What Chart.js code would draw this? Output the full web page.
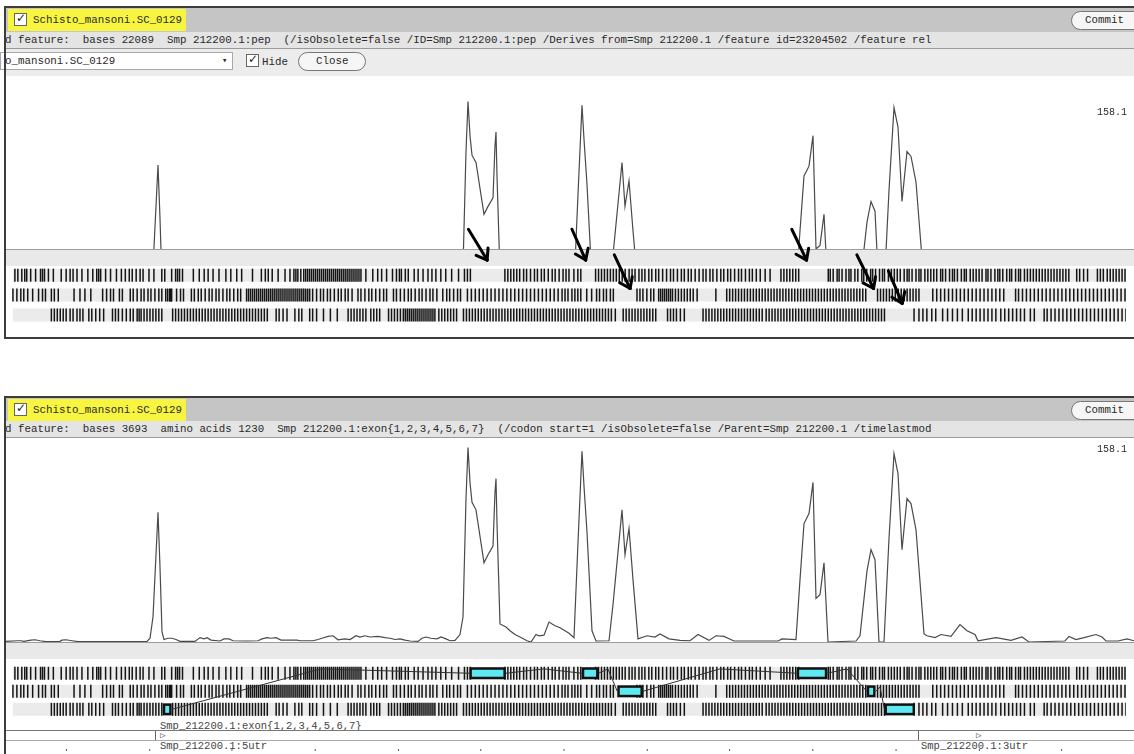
<!DOCTYPE html>
<html>
<head>
<meta charset="utf-8">
<script src="https://cdn.jsdelivr.net/npm/chart.js@4/dist/chart.umd.min.js"></script>
<style>
body { margin:0; width:1134px; height:754px; overflow:hidden; background:#fff; position:relative;
       font-family:"Liberation Mono", monospace; font-size:10.8px; color:#2a2a2a; }
.abs { position:absolute; }
.txt { position:absolute; white-space:pre; line-height:12px; }
.border { position:absolute; border:2px solid #3c3c3c; box-sizing:border-box; z-index:20; pointer-events:none; }
.header { position:absolute; left:6px; width:1128px; background:#c5c5c5; }
.yellow { position:absolute; left:8px; width:178px; background:#f7f53f; }
.check { position:absolute; width:11px; height:11px; border:1px solid #666; background:#fff; }
.check:after { content:"\2713"; position:absolute; left:1px; top:-3px; font:bold 12px "DejaVu Sans"; color:#222; }
.pill { position:absolute; border:1px solid #777; border-radius:10px; background:#f6f6f6; box-sizing:border-box; }
.line2 { position:absolute; left:6px; width:1128px; height:16px; background:#e4e4e4; }
.sep { position:absolute; left:6px; width:1128px; height:1px; background:#999; }
canvas { position:absolute; left:0; }
</style>
</head>
<body>

<!-- top panel -->
<div class="border" style="left:4px;top:6px;width:1200px;height:333px;"></div>
<div class="header" style="top:8px;height:24px;"></div>
<div class="yellow" style="top:9px;height:22px;"></div>
<div class="check" style="left:14px;top:13px;"></div>
<div class="txt" style="left:33px;top:14px;">Schisto_mansoni.SC_0129</div>
<div class="pill" style="left:1071px;top:11px;width:90px;height:19px;"></div>
<div class="txt" style="left:1085px;top:14px;">Commit</div>
<div class="line2" style="top:32px;"></div>
<div class="txt" id="info1" style="left:5px;top:34px;"></div>
<div class="sep" style="top:48px;"></div>
<div class="abs" style="left:6px;top:49px;width:1128px;height:27px;background:#ececec;"></div>
<div class="abs" style="left:0px;top:52px;width:233px;height:18px;background:#fff;border:1px solid #a8a8a8;box-sizing:border-box;"></div>
<div class="txt" style="left:5px;top:55px;">o_mansoni.SC_0129</div>
<div class="txt" style="left:222px;top:55px;font-size:9px;">&#9662;</div>
<div class="check" style="left:246px;top:54px;"></div>
<div class="txt" style="left:262px;top:56px;">Hide</div>
<div class="pill" style="left:298px;top:52px;width:68px;height:19px;"></div>
<div class="txt" style="left:316px;top:55px;">Close</div>
<canvas id="plot1" width="1134" height="173" style="top:76px;"></canvas>
<div class="abs" style="left:5px;top:249px;width:1129px;height:1.5px;background:#9c9c9c;"></div>
<div class="abs" style="left:5px;top:250px;width:1129px;height:16px;background:#e9e9e9;"></div>
<canvas id="frames1" width="1134" height="138" style="top:200px;z-index:5;"></canvas>
<div class="txt" id="max1" style="left:1097px;top:107px;font-size:10px;"></div>

<!-- bottom panel -->
<div class="border" style="left:4px;top:396px;width:1200px;height:400px;"></div>
<div class="header" style="top:398px;height:23px;"></div>
<div class="yellow" style="top:399px;height:22px;"></div>
<div class="check" style="left:14px;top:403px;"></div>
<div class="txt" style="left:33px;top:404px;">Schisto_mansoni.SC_0129</div>
<div class="pill" style="left:1071px;top:401px;width:90px;height:19px;"></div>
<div class="txt" style="left:1085px;top:404px;">Commit</div>
<div class="line2" style="top:421px;"></div>
<div class="txt" id="info2" style="left:5px;top:423px;"></div>
<div class="sep" style="top:437px;"></div>
<canvas id="plot2" width="1134" height="203" style="top:440px;"></canvas>
<div class="abs" style="left:5px;top:642px;width:1129px;height:1.5px;background:#9c9c9c;"></div>
<div class="abs" style="left:5px;top:643px;width:1129px;height:16px;background:#e9e9e9;"></div>
<canvas id="frames2" width="1134" height="81" style="top:650px;z-index:5;"></canvas>
<div class="txt" id="max2" style="left:1097px;top:444px;font-size:10px;"></div>
<div class="txt" id="exonLabel" style="left:160px;top:720px;font-size:10.5px;color:#444;"></div>
<div class="abs" style="left:5px;top:730px;width:1129px;height:1px;background:#777;"></div>
<div class="abs" style="left:5px;top:740px;width:1129px;height:1px;background:#aaa;"></div>
<div class="abs" style="left:155px;top:731px;width:1px;height:9px;background:#666;"></div>
<div class="txt" style="left:160px;top:730px;font-size:9px;color:#555;">&#9655;</div>
<div class="abs" style="left:918px;top:731px;width:1px;height:9px;background:#666;"></div>
<div class="txt" style="left:976px;top:730px;font-size:9px;color:#555;">&#9655;</div>
<div class="txt" id="utr5" style="left:160px;top:740px;font-size:10.5px;color:#444;"></div>
<div class="txt" id="utr3" style="left:921px;top:740px;font-size:10.5px;color:#444;"></div>
<canvas id="ruler" width="1134" height="12" style="top:744px;z-index:6;"></canvas>

<script>
const infoTop = 'd feature:  bases 22089  Smp 212200.1:pep  (/isObsolete=false /ID=Smp 212200.1:pep /Derives from=Smp 212200.1 /feature id=23204502 /feature rel';
const infoBottom = 'd feature:  bases 3693  amino acids 1230  Smp 212200.1:exon{1,2,3,4,5,6,7}  (/codon start=1 /isObsolete=false /Parent=Smp 212200.1 /timelastmod';
const maxLabel = '158.1';
const featureLabels = ['Smp_212200.1:exon{1,2,3,4,5,6,7}', 'Smp_212200.1:5utr', 'Smp_212200.1:3utr'];

// plot window position -> value
const curvePos = [5,18,21,24,31,35,40,46,60,62,66,72,78,130,147,150,153,156,158,160,162,164,168,172,176,180,195,200,204,207,211,220,224,229,233,246,258,262,267,271,276,281,297,300,313,318,322,328,333,338,345,350,356,360,365,370,378,385,390,395,400,405,410,418,422,426,431,437,441,446,450,455,460,463,466,468,470,472,476,484,488,493,495,496,497,500,506,510,515,520,527,531,536,539,544,549,555,560,565,569,574,578,582,584,587,592,596,609,613,622,625,629,633,638,647,655,660,669,680,690,698,709,716,724,734,778,782,796,800,804,809,813,816,820,824,828,856,860,867,871,875,879,884,889,894,898,902,907,911,916,924,927,935,941,951,960,967,975,978,996,1011,1022,1029,1065,1069,1076,1084,1096,1102,1106,1118,1127,1134];
const curveVal = [0.5,1,1,0.5,1.5,1.8,1,0.3,0.5,1.5,1.8,1,0.3,0.3,0.5,3,20,70,104,60,8,2,3,3,2,0.5,0.5,3.5,2.5,3.5,1.5,0.8,2.5,2.5,1,0.8,1,2.5,3.5,3,3.5,1.5,1.5,1,1,2,3,4.5,5,1.8,2.5,2,5,4,5,4,4.5,3.5,3,2,2.5,1.5,0.8,0.5,3,4,3,2.5,4,2.5,1,1.3,6,20,115,156,128,112,106,63.5,70,77,120,131,95,14.5,12,9,6,4,1,0,6,5,5.5,16,13,11.4,9,7,3.5,80,153,125,88,9,0.8,1,30,106,70,91,50,2.5,5,4,6.5,2.5,1.3,1,6,1.3,5,4.5,0.8,0.8,2.5,2,50,95,103,128,35,38,63.5,0,0.8,5,57,74,66,0,0,83,151,135,74,115,111,90,6.5,5,3.5,6,4.5,14,9,6,1,3.5,1.3,4,0,0.8,4.5,2,3.5,6,4,0.8,0.8,2.5,1];

// stop codon positions in the three forward frames
const frame1Stops = [7,10,14,17,19,23,28,33,35,37,41,46,54,59,63,66,70,75,81,86,90,92,94,99,104,110,115,119,123,126,130,134,137,143,148,156,159,166,170,172,174,177,188,194,199,203,208,214,221,226,232,237,248,257,261,264,268,274,281,286,290,292,294,297,300,302,304,306,308,310,312,314,316,318,320,322,324,326,328,330,332,334,336,338,340,342,344,346,348,350,352,354,356,358,363,370,375,379,384,390,394,397,399,403,406,412,416,421,426,430,434,439,444,450,457,463,466,469,504,507,510,513,516,519,523,526,530,534,537,541,544,548,552,555,559,563,566,569,574,578,581,596,599,602,605,608,611,614,617,620,623,626,630,633,636,640,643,646,650,653,657,660,664,668,672,675,679,683,686,690,693,697,701,705,708,712,715,719,723,726,730,733,737,741,744,748,752,755,759,763,768,773,784,787,790,793,796,799,802,832,834,837,841,843,846,850,853,855,859,862,866,868,871,875,877,880,884,887,889,893,896,899,902,905,909,912,914,917,921,924,926,930,933,936,939,942,946,948,951,955,958,960,963,967,970,972,976,979,982,985,988,992,994,997,1001,1004,1006,1009,1013,1016,1018,1022,1025,1027,1031,1034,1037,1040,1043,1046,1049,1052,1055,1058,1061,1064,1067,1070,1073,1076,1084,1087,1091,1095,1105,1108,1111,1115,1118,1121,1124,1127,1130,1133];
const frame2Stops = [5,9,13,16,20,25,31,35,38,44,47,51,67,73,78,84,96,100,104,107,113,116,124,127,131,135,138,142,145,149,153,156,160,162,164,165,166,171,175,178,186,189,193,196,200,204,207,211,214,218,222,225,229,233,236,242,244,246,248,250,252,254,256,258,260,262,264,266,268,270,272,274,276,278,280,282,284,286,288,290,292,294,296,298,300,302,304,306,309,313,317,320,324,327,331,335,338,342,345,349,355,358,362,366,369,373,377,381,384,391,394,398,402,406,409,413,417,420,424,428,431,435,441,445,448,452,456,459,466,470,474,478,482,486,490,494,498,502,506,510,514,518,522,526,530,534,538,542,546,550,554,558,562,565,568,572,575,578,581,587,592,597,600,604,607,611,614,638,641,644,648,652,655,660,662,664,666,668,670,672,674,677,680,683,686,689,692,695,699,718,729,732,735,738,741,744,747,750,753,756,759,762,765,768,771,774,777,780,783,786,789,792,795,798,801,804,807,810,813,816,819,822,825,828,831,834,837,840,843,846,849,852,855,858,861,864,867,870,882,885,888,891,894,897,900,903,906,909,912,915,918,921,924,938,942,946,950,954,958,962,966,970,974,978,982,986,990,994,998,1002,1006,1010,1022,1025,1029,1033,1037,1041,1045,1049,1053,1057,1061,1065,1069,1073,1077,1081,1085,1089,1093,1097,1101,1105,1109,1113,1117,1121,1125,1129,1133];
const frame3Stops = [44,47,50,53,56,59,63,66,70,73,76,82,85,89,93,97,106,109,112,116,120,124,127,131,133,135,138,141,144,147,150,153,156,167,170,173,176,179,182,185,188,191,194,197,200,203,206,209,212,215,218,221,224,227,230,233,236,239,242,245,248,251,254,257,260,263,272,275,279,283,291,295,298,306,309,313,320,327,334,345,348,351,354,357,360,363,368,371,374,377,386,389,392,395,398,401,403,405,407,409,411,413,415,417,419,421,423,425,427,429,431,433,437,440,443,446,449,452,455,462,465,468,471,474,477,480,483,486,489,492,495,498,501,504,507,510,513,516,519,522,525,528,531,534,537,540,543,546,549,552,555,558,561,564,567,570,573,576,579,582,585,588,591,594,597,600,603,606,609,612,616,624,627,630,633,636,639,642,645,648,651,654,657,669,672,675,678,682,686,705,708,711,714,717,720,723,726,729,732,735,738,741,744,747,750,753,756,759,762,765,769,772,775,778,781,784,787,790,793,796,799,802,805,808,811,814,817,820,823,826,829,832,835,838,841,844,847,850,853,856,859,862,865,868,871,874,877,880,883,886,889,919,924,928,932,937,941,948,953,958,963,968,974,978,982,986,990,994,998,1002,1007,1011,1015,1019,1023,1027,1031,1037,1041,1051,1054,1058,1062,1066,1070,1074,1078,1082,1086,1090,1094,1098,1102,1106,1110,1114,1118,1122,1126,1130,1134];

// exons of Smp_212200.1
const exonStart = [157,468,582,618,800,871,889];
const exonEnd   = [166,505,599,644,831,880,920];
const exonFrame = [3,1,1,2,1,2,3];

// arrows drawn on the upper panel (position, frame-row units)
const arrowTailPos = [467,572,615,795,861,893];
const arrowTailRow = [-1.31,-1.31,-0.02,-1.31,-0.02,0.78];
const arrowTipPos  = [486,586,631,810,878,907];
const arrowTipRow  = [0.24,0.24,1.67,0.24,1.67,2.42];

const rulerTicks = [62,146,229,313,397,480,564,648,731,815,899,983,1066];

document.getElementById('info1').textContent = infoTop;
document.getElementById('info2').textContent = infoBottom;
document.getElementById('max1').textContent = maxLabel;
document.getElementById('max2').textContent = maxLabel;
document.getElementById('exonLabel').textContent = featureLabels[0];
document.getElementById('utr5').textContent = featureLabels[1];
document.getElementById('utr3').textContent = featureLabels[2];

function pts(xs, ys){
    return xs.map(function(x, i){ return {x: x, y: ys[i]}; });
}
function rowPts(xs, r){
    return xs.map(function(x){ return {x: x, y: r}; });
}

function baseOpts(ymin, ymax, reverse){
    return {
        responsive: false,
        animation: false,
        events: [],
        layout: {padding: 0},
        plugins: {legend: {display: false}, tooltip: {enabled: false}},
        scales: {
            x: {type: 'linear', min: 0, max: 1134, display: false},
            y: {type: 'linear', min: ymin, max: ymax, reverse: reverse, display: false}
        }
    };
}

function makePlot(id, ymin, ymax){
    new Chart(document.getElementById(id), {
        type: 'scatter',
        data: {datasets: [{
            data: pts(curvePos, curveVal),
            showLine: true,
            borderColor: '#4a4a4a',
            borderWidth: 1.2,
            pointRadius: 0,
            tension: 0
        }]},
        options: baseOpts(ymin, ymax, false)
    });
}

const arrowHeads = {
    id: 'arrowHeads',
    afterDatasetsDraw(chart){
        if (!chart.options.plugins.arrowHeads.show) return;
        var xs = chart.scales.x, ys = chart.scales.y, ctx = chart.ctx;
        ctx.save();
        ctx.strokeStyle = '#000';
        ctx.lineWidth = 3;
        ctx.lineCap = 'round';
        for (let i = 0; i < arrowTipPos.length; i++){
            var tx = xs.getPixelForValue(arrowTipPos[i]), ty = ys.getPixelForValue(arrowTipRow[i]);
            var sx = xs.getPixelForValue(arrowTailPos[i]), sy = ys.getPixelForValue(arrowTailRow[i]);
            var a = Math.atan2(ty - sy, tx - sx);
            [-0.62, 0.62].forEach(function(d){
                ctx.beginPath();
                ctx.moveTo(tx, ty);
                ctx.lineTo(tx - 12 * Math.cos(a + d), ty - 12 * Math.sin(a + d));
                ctx.stroke();
            });
        }
        ctx.restore();
    }
};

// rows: centre of frame 1 sits rowTopPx below the canvas top, 22.5px per frame
function makeFrames(id, height, rowTopPx, withExons, withArrows){
    var rmin = 1 - rowTopPx / 22.5;
    var rmax = rmin + height / 22.5;
    var ds = [];
    [1, 2, 3].forEach(function(r){
        ds.push({data: [{x: 5, y: r}, {x: 1134, y: r}], showLine: true, borderColor: '#ebebeb',
                 borderWidth: 13, borderCapStyle: 'butt', pointRadius: 0, order: 10});
    });
    [frame1Stops, frame2Stops, frame3Stops].forEach(function(s, i){
        ds.push({data: rowPts(s, i + 1), showLine: false, pointStyle: 'line', pointRadius: 6.5,
                 pointRotation: 90, pointBorderColor: '#141414', pointBorderWidth: 1.5, order: 8});
    });
    if (withExons){
        for (let i = 0; i < exonStart.length - 1; i++){
            var r1 = exonFrame[i], r2 = exonFrame[i + 1];
            var mid = (exonEnd[i] + exonStart[i + 1]) / 2;
            ds.push({data: [{x: exonEnd[i], y: r1}, {x: mid, y: Math.min(r1, r2) - 0.24}, {x: exonStart[i + 1], y: r2}],
                     showLine: true, borderColor: '#333', borderWidth: 1, pointRadius: 0, order: 4});
        }
        for (let i = 0; i < exonStart.length; i++){
            ds.push({data: [{x: exonStart[i], y: exonFrame[i]}, {x: exonEnd[i], y: exonFrame[i]}], showLine: true,
                     borderColor: '#111', borderWidth: 12, borderCapStyle: 'butt', pointRadius: 0, order: 2});
            ds.push({data: [{x: exonStart[i] + 2.5, y: exonFrame[i]}, {x: exonEnd[i] - 2.5, y: exonFrame[i]}], showLine: true,
                     borderColor: '#5ee9f2', borderWidth: 7, borderCapStyle: 'butt', pointRadius: 0, order: 1});
        }
    }
    if (withArrows){
        for (let i = 0; i < arrowTipPos.length; i++){
            ds.push({data: [{x: arrowTailPos[i], y: arrowTailRow[i]}, {x: arrowTipPos[i], y: arrowTipRow[i]}],
                     showLine: true, borderColor: '#000', borderWidth: 3, borderCapStyle: 'round', pointRadius: 0, order: 0});
        }
    }
    var opts = baseOpts(rmin, rmax, true);
    opts.plugins.arrowHeads = {show: withArrows};
    new Chart(document.getElementById(id), {
        type: 'scatter',
        data: {datasets: ds},
        options: opts,
        plugins: [arrowHeads]
    });
}

makePlot('plot1', 35, 177);
makePlot('plot2', -0.8, 162);
makeFrames('frames1', 138, 76, false, true);
makeFrames('frames2', 81, 19, true, false);

// ruler marks along the bottom edge
new Chart(document.getElementById('ruler'), {
    type: 'scatter',
    data: {datasets: [{data: rowPts(rulerTicks, 0), showLine: false, pointStyle: 'line', pointRadius: 2.5,
                       pointRotation: 90, pointBorderColor: '#555', pointBorderWidth: 1}]},
    options: baseOpts(-0.15, 1, false)
});
</script>
</body>
</html>
